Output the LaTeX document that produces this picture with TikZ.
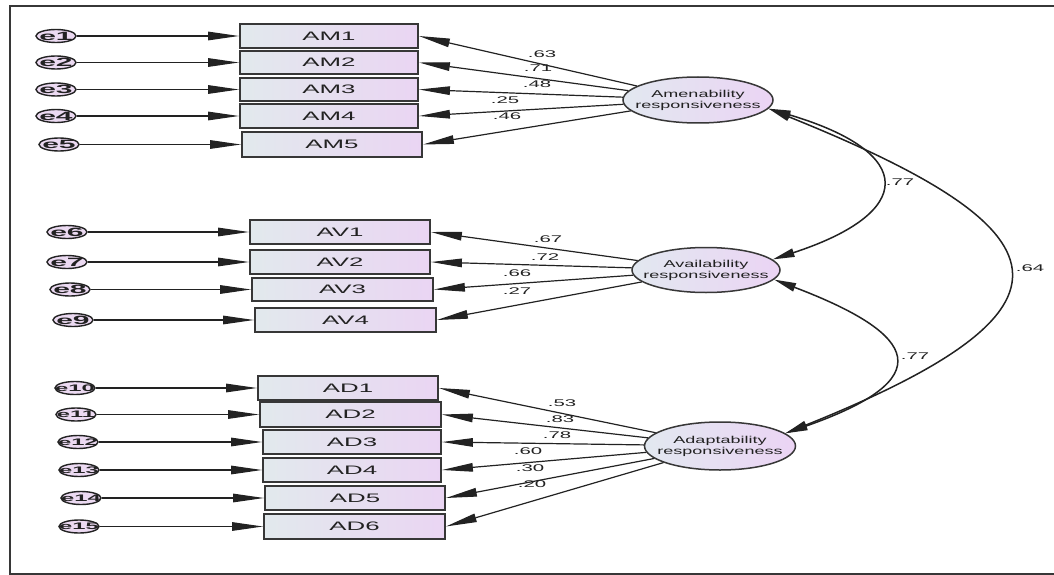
\documentclass[tikz,border=0pt]{standalone}
\usepackage{fontspec}
\setmainfont{Liberation Sans}
\newfontfamily\obsfont[FakeStretch=2.1]{Liberation Sans}
\newfontfamily\latfont[FakeStretch=1.8]{Liberation Sans}
\newfontfamily\errfont[FakeStretch=2.5]{Liberation Sans}
\usetikzlibrary{arrows.meta,shapes.geometric}

\definecolor{obsL}{RGB}{226,233,237}
\definecolor{obsR}{RGB}{234,213,243}
\definecolor{latL}{RGB}{226,232,240}
\definecolor{latR}{RGB}{235,212,244}
\definecolor{errfill}{RGB}{236,218,242}
\definecolor{ink}{RGB}{34,34,34}
\definecolor{edge}{RGB}{55,55,55}

\begin{document}
\begin{tikzpicture}[x=1pt,y=-1pt,
  obs/.style={rectangle, draw=edge, line width=1.8pt, left color=obsL, right color=obsR,
    inner sep=0pt, font=\obsfont\fontsize{12.3}{12.3}\selectfont, text=ink},
  lat/.style={ellipse, draw=edge, line width=1.5pt, left color=latL, right color=latR,
    inner sep=0pt,
    label={[align=center, font=\latfont\fontsize{10}{11}\selectfont, text=ink, inner sep=0pt]center:#1}},
  err/.style 2 args={ellipse, draw=ink, line width=1.4pt, fill=errfill, inner sep=0pt,
    minimum width=40pt, minimum height=13pt,
    label={[font=\errfont\bfseries\fontsize{#2}{#2}\selectfont, text=ink, inner sep=0pt]center:#1}},
  coef/.style={font=\obsfont\fontsize{9.7}{9.7}\selectfont, text=ink, inner sep=0pt},
  arr/.style={draw=ink, line width=1.2pt, -{Triangle[length=31pt,width=8.5pt]}},
  dbl/.style={draw=ink, line width=1.5pt,
    {Triangle[length=22pt,width=8.5pt]}-{Triangle[length=22pt,width=8.5pt]}},
  frame/.style={draw=edge, line width=2.5pt}]

\useasboundingbox (0,0) rectangle (1054,575);
\clip (0,0) rectangle (1054,575);
\fill[white] (0,0) rectangle (1054,575);
\draw[frame] (10,6) rectangle (1080,574);

% latent factors
\node[lat={Amenability\\responsiveness}, minimum width=150pt, minimum height=46pt] (amen) at (698,100) {};
\node[lat={Availability\\responsiveness}, minimum width=148pt, minimum height=45pt] (avail) at (706,270) {};
\node[lat={Adaptability\\responsiveness}, minimum width=151pt, minimum height=48pt] (adapt) at (720,446) {};

% amenability indicators
\node[obs, minimum width=178pt, minimum height=24pt] (AM1) at (329,36) {AM1};
\node[obs, minimum width=178pt, minimum height=23pt] (AM2) at (329,62.5) {AM2};
\node[obs, minimum width=178pt, minimum height=23pt] (AM3) at (329,89.5) {AM3};
\node[obs, minimum width=178pt, minimum height=24pt] (AM4) at (329,116) {AM4};
\node[obs, minimum width=180pt, minimum height=25pt] (AM5) at (332,144.5) {AM5};

% availability indicators
\node[obs, minimum width=180pt, minimum height=24pt] (AV1) at (340,232) {AV1};
\node[obs, minimum width=180pt, minimum height=24pt] (AV2) at (340,262) {AV2};
\node[obs, minimum width=181pt, minimum height=23pt] (AV3) at (342.5,289.5) {AV3};
\node[obs, minimum width=181pt, minimum height=24pt] (AV4) at (345.5,320) {AV4};

% adaptability indicators
\node[obs, minimum width=180pt, minimum height=24pt] (AD1) at (348,388) {AD1};
\node[obs, minimum width=181pt, minimum height=25pt] (AD2) at (350.5,414.5) {AD2};
\node[obs, minimum width=178pt, minimum height=24pt] (AD3) at (352,442) {AD3};
\node[obs, minimum width=178pt, minimum height=24pt] (AD4) at (352,470) {AD4};
\node[obs, minimum width=180pt, minimum height=24pt] (AD5) at (355,498) {AD5};
\node[obs, minimum width=181pt, minimum height=25pt] (AD6) at (354.5,526.5) {AD6};

% error terms
\node[err={e1}{12}] (e1) at (56,36) {};
\node[err={e2}{12}] (e2) at (56,62.5) {};
\node[err={e3}{12}] (e3) at (56,89.5) {};
\node[err={e4}{12}] (e4) at (56,116) {};
\node[err={e5}{12}] (e5) at (59,144.5) {};
\node[err={e6}{12}] (e6) at (67,232) {};
\node[err={e7}{12}] (e7) at (67,262) {};
\node[err={e8}{12}] (e8) at (70,289.5) {};
\node[err={e9}{12}] (e9) at (73,320) {};
\node[err={e10}{9.5}] (e10) at (75,388) {};
\node[err={e11}{9.5}] (e11) at (76,414.5) {};
\node[err={e12}{9.5}] (e12) at (78,442) {};
\node[err={e13}{9.5}] (e13) at (79,470) {};
\node[err={e14}{9.5}] (e14) at (81,498) {};
\node[err={e15}{9.5}] (e15) at (79,526.5) {};

% error paths
\foreach \e/\o in {e1/AM1,e2/AM2,e3/AM3,e4/AM4,e5/AM5,e6/AV1,e7/AV2,e8/AV3,e9/AV4,
                   e10/AD1,e11/AD2,e12/AD3,e13/AD4,e14/AD5,e15/AD6}
  \draw[arr] (\e) -- (\o.west);

% loadings
\foreach \o in {AM1,AM2,AM3,AM4,AM5} \draw[arr] (amen) -- (\o.east);
\foreach \o in {AV1,AV2,AV3,AV4} \draw[arr] (avail) -- (\o.east);
\foreach \o in {AD1,AD2,AD3,AD4,AD5,AD6} \draw[arr] (adapt) -- (\o.east);

% loading estimates
\node[coef] (c1) at (542,54) {.63};
\node[coef] (c2) at (538,68) {.71};
\node[coef] (c3) at (537,84) {.48};
\node[coef] (c4) at (505,100) {.25};
\node[coef] (c5) at (507,116) {.46};
\node[coef] (c6) at (548,239) {.67};
\node[coef] (c7) at (545,257) {.72};
\node[coef] (c8) at (517,273) {.66};
\node[coef] (c9) at (517,291) {.27};
\node[coef] (c10) at (562,403) {.53};
\node[coef] (c11) at (560,419) {.83};
\node[coef] (c12) at (557,435) {.78};
\node[coef] (c13) at (528,451) {.60};
\node[coef] (c14) at (530,468) {.30};
\node[coef] (c15) at (532,484) {.20};

% factor correlations
\draw[dbl] (amen.-7) .. controls (918,153) and (915,213) .. (avail.9);
\draw[dbl] (avail.-8) .. controls (920,335) and (940,379) .. (adapt.11);
\draw[dbl] (amen.-7) .. controls (1070,230) and (1098,308) .. (adapt.11);
\node[coef] (r1) at (900,182) {.77};
\node[coef] (r2) at (915,356) {.77};
\node[coef] (r3) at (1030,268) {.64};
\end{tikzpicture}
\end{document}
